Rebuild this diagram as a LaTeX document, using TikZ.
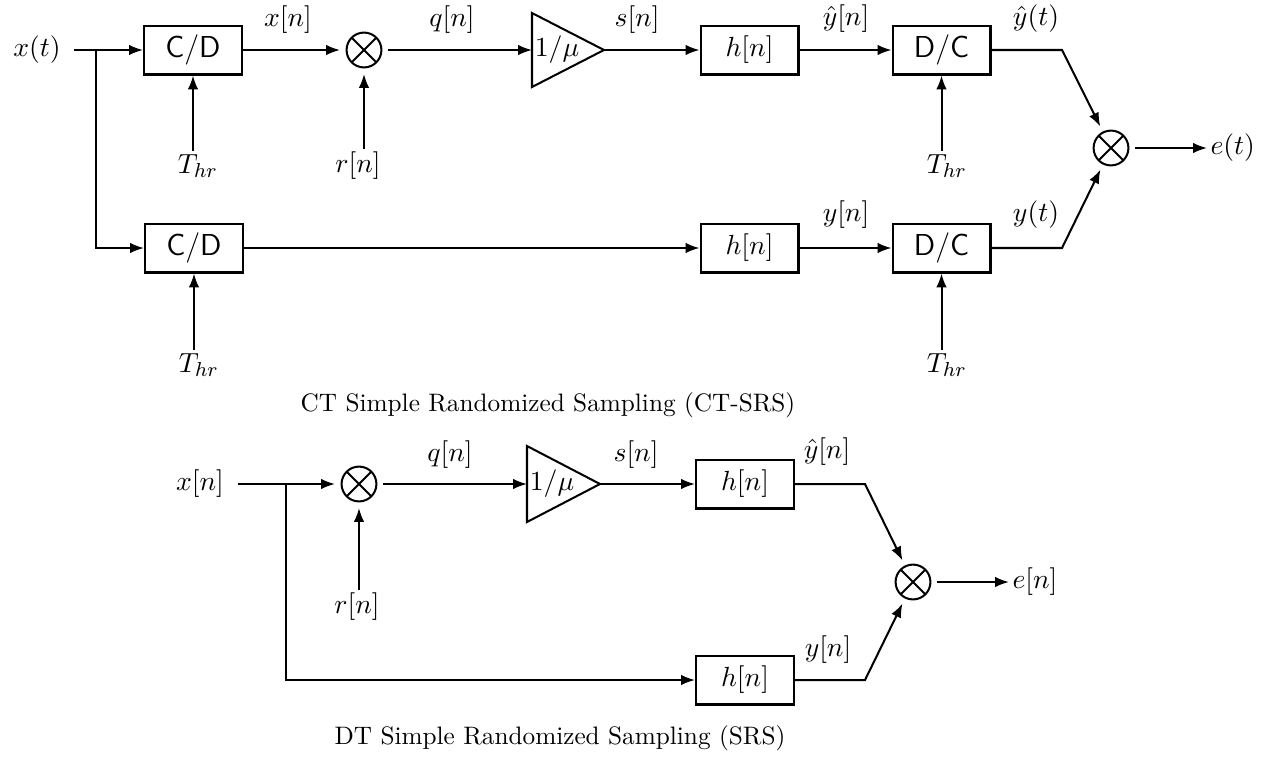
\documentclass[tikz,border=0pt]{standalone}
\usetikzlibrary{arrows.meta}
\begin{document}
\begin{tikzpicture}[x=0.396pt,y=-0.396pt,
  line width=0.8pt,
  font=\fontsize{11}{13}\selectfont,
  sig/.style={-{Latex[length=5.5pt,width=4.2pt]}},
  blk/.style={draw,rectangle,minimum width=38.8pt,minimum height=19.4pt,inner sep=0pt},
  sfblk/.style={blk,font=\fontsize{12}{14}\selectfont\sffamily},
  mult/.style={draw,circle,minimum size=13.8pt,inner sep=0pt,
    path picture={\draw (path picture bounding box.north west)--(path picture bounding box.south east)
      (path picture bounding box.north east)--(path picture bounding box.south west);}},
  lbl/.style={inner sep=1pt},
  captxt/.style={font=\fontsize{10}{12}\selectfont},
  gain/.style={draw,line join=miter}
]
\path[use as bounding box] (0,0) rectangle (1282,759);

% ---------- CT-SRS ----------
\node[lbl] (xt) at (37,50) {$x(t)$};
\coordinate (br1) at (96,50);
\node[sfblk] (cd1) at (193,50) {C/D};
\node[mult] (m1) at (364,50) {};
\draw[gain] (532,13) -- (604,50) -- (532,87) -- cycle;
\coordinate (g1L) at (532,50);
\coordinate (g1R) at (604,50);
\node[inner sep=0pt] (g1) at (557,50) {$1/\mu$};
\node[blk] (h1) at (749.5,50) {$h[n]$};
\node[sfblk] (dc1) at (941.5,50) {D/C};
\coordinate (k1) at (1062,50);
\node[mult] (m2) at (1111,148) {};
\node[lbl,anchor=west] (et) at (1207,148) {$e(t)$};

\node[sfblk] (cd2) at (194,248) {C/D};
\node[blk] (h2) at (749.5,248) {$h[n]$};
\node[sfblk] (dc2) at (941.5,248) {D/C};
\coordinate (k2) at (1062,248);

\node[lbl] (T1) at (198,166) {$T_{hr}$};
\node[lbl] (r1) at (358,166) {$r[n]$};
\node[lbl] (T2) at (947,166) {$T_{hr}$};
\node[lbl] (T3) at (199,365) {$T_{hr}$};
\node[lbl] (T4) at (947,365) {$T_{hr}$};

\draw[sig,shorten <=4pt] (xt) -- (cd1);
\draw[sig] (br1) |- (cd2);
\draw[sig,shorten >=2.2pt] (cd1) -- (m1);
\draw[sig,shorten <=2.2pt] (m1) -- (g1L);
\draw[sig] (g1R) -- (h1);
\draw[sig] (h1) -- (dc1);
\draw[sig,shorten >=2.2pt] (dc1.east) -- (k1) -- (m2);
\draw[sig,shorten <=2.2pt] (m2) -- (et);
\draw[sig] (cd2) -- (h2);
\draw[sig] (h2) -- (dc2);
\draw[sig,shorten >=2.2pt] (dc2.east) -- (k2) -- (m2);
\draw[sig] (T1.north -| cd1.south) -- (cd1.south);
\draw[sig,shorten >=2.2pt] (r1.north -| m1.south) -- (m1.south);
\draw[sig] (T2.north -| dc1.south) -- (dc1.south);
\draw[sig] (T3.north -| cd2.south) -- (cd2.south);
\draw[sig] (T4.north -| dc2.south) -- (dc2.south);

\node[lbl] (lxn1) at (288,20) {$x[n]$};
\node[lbl] (lqn1) at (452,20) {$q[n]$};
\node[lbl] (lsn1) at (637,20) {$s[n]$};
\node[lbl] (lyh1) at (846,19) {$\hat{y}[n]$};
\node[lbl] (lyt1) at (1036,19) {$\hat{y}(t)$};
\node[lbl] (lyn1) at (846,215) {$y[n]$};
\node[lbl] (lyt2) at (1036,215) {$y(t)$};

\node[captxt] (cap1) at (548,405) {CT Simple Randomized Sampling (CT-SRS)};

% ---------- DT SRS ----------
\node[lbl] (xn) at (200,484) {$x[n]$};
\coordinate (br2) at (286,484);
\node[mult] (m3) at (359,484) {};
\draw[gain] (527,446) -- (600,484) -- (527,522) -- cycle;
\coordinate (g2L) at (527,484);
\coordinate (g2R) at (600,484);
\node[inner sep=0pt] (g2) at (552,484) {$1/\mu$};
\node[blk] (h3) at (745,484) {$h[n]$};
\coordinate (k3) at (865,484);
\node[mult] (m4) at (913,582) {};
\node[lbl,anchor=west] (en) at (1009,582) {$e[n]$};
\node[blk] (h4) at (745,680) {$h[n]$};
\coordinate (k4) at (865,680);
\node[lbl] (r2) at (357,607) {$r[n]$};

\draw[sig,shorten <=4pt,shorten >=2.2pt] (xn) -- (m3);
\draw[sig] (br2) |- (h4);
\draw[sig,shorten <=2.2pt] (m3) -- (g2L);
\draw[sig] (g2R) -- (h3);
\draw[sig,shorten >=2.2pt] (h3.east) -- (k3) -- (m4);
\draw[sig,shorten >=2.2pt] (h4.east) -- (k4) -- (m4);
\draw[sig,shorten <=2.2pt] (m4) -- (en);
\draw[sig,shorten >=2.2pt] (r2.north -| m3.south) -- (m3.south);

\node[lbl] (lqn2) at (450,455) {$q[n]$};
\node[lbl] (lsn2) at (636,455) {$s[n]$};
\node[lbl] (lyh2) at (827,452) {$\hat{y}[n]$};
\node[lbl] (lyn2) at (828,650) {$y[n]$};

\node[captxt] (cap2) at (560,738) {DT Simple Randomized Sampling (SRS)};
\end{tikzpicture}
\end{document}
